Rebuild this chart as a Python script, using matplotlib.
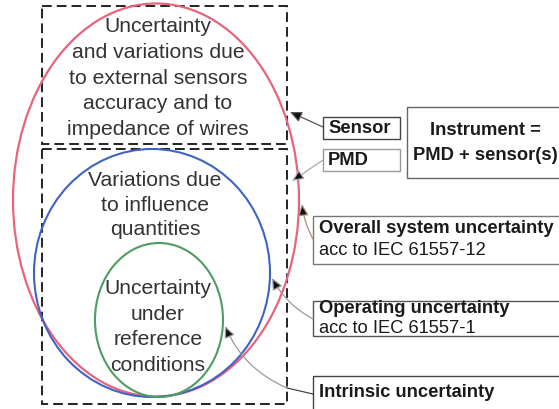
import matplotlib
matplotlib.use("Agg")
import matplotlib.pyplot as plt
from matplotlib.patches import Ellipse, Rectangle, FancyArrowPatch

plt.rcParams['font.family'] = ['Liberation Sans', 'DejaVu Sans']

# ---- content ----
outer_lines = ["Uncertainty", "and variations due", "to external sensors",
               "accuracy and to", "impedance of wires"]
middle_lines = ["Variations due", "to influence", "quantities"]
inner_lines = ["Uncertainty", "under", "reference", "conditions"]
sensor_label = "Sensor"
pmd_label = "PMD"
instrument_lines = ["Instrument =", "PMD + sensor(s)"]
overall_lines = ["Overall system uncertainty", "acc to IEC 61557-12"]
operating_lines = ["Operating uncertainty", "acc to IEC 61557-1"]
intrinsic_lines = ["Intrinsic uncertainty"]

fig = plt.figure(figsize=(5.59, 4.10), dpi=100)
ax = fig.add_axes([0, 0, 1, 1])
ax.set_xlim(0, 559)
ax.set_ylim(410, 0)
ax.axis('off')

dash = (0, (5, 2.6))
# dashed rectangles
ax.add_patch(Rectangle((42, 7), 245, 138, fill=False, ec='#222222', lw=1.4, ls=dash))
ax.add_patch(Rectangle((42, 150), 245, 255, fill=False, ec='#222222', lw=1.4, ls=dash))

# ellipses
ax.add_patch(Ellipse((156, 201), 286, 393, fill=False, ec='#e8647c', lw=1.6))
ax.add_patch(Ellipse((152, 274), 236, 248, fill=False, ec='#3f63c4', lw=1.5))
ax.add_patch(Ellipse((159, 321), 128, 154, fill=False, ec='#4f9c60', lw=1.5))

txt_col = '#333333'
def stack(lines, x, y0, dy, size, **kw):
    for i, s in enumerate(lines):
        ax.text(x, y0 + i * dy, s, ha='center', va='center', fontsize=size,
                color=txt_col, **kw)

stack(outer_lines, 158, 27, 25.6, 15.2)
stack(middle_lines, 155, 181, 24.5, 15.2)
stack(inner_lines, 158, 289, 25.5, 15.2)

# right boxes
def box(x0, y0, x1, y1, ec):
    ax.add_patch(Rectangle((x0, y0), x1 - x0, y1 - y0, fill=False, ec=ec, lw=1.0))

dark = '#1a1a1a'
bs = 13.2
box(323, 118, 400, 140, '#444444')
ax.text(328, 129, sensor_label, ha='left', va='center', fontsize=bs, weight='bold', color=dark)
box(323, 150, 400, 172, '#9a9a9a')
ax.text(328, 161, pmd_label, ha='left', va='center', fontsize=bs, weight='bold', color=dark)

box(407, 108, 566, 179, '#666666')
ax.text(485, 131, instrument_lines[0], ha='center', va='center', fontsize=bs, weight='bold', color=dark)
ax.text(485, 156, instrument_lines[1], ha='center', va='center', fontsize=bs, weight='bold', color=dark)

box(313, 217, 566, 265, '#777777')
ax.text(319, 229, overall_lines[0], ha='left', va='center', fontsize=bs, weight='bold', color=dark)
ax.text(319, 251, overall_lines[1], ha='left', va='center', fontsize=bs, color=dark)

box(313, 302, 566, 337, '#555555')
ax.text(319, 309, operating_lines[0], ha='left', va='center', fontsize=bs, weight='bold', color=dark)
ax.text(319, 329, operating_lines[1], ha='left', va='center', fontsize=bs, color=dark)

box(313, 377, 566, 420, '#444444')
ax.text(319, 393, intrinsic_lines[0], ha='left', va='center', fontsize=bs, weight='bold', color=dark)

# connectors
def conn(p0, p1, col, rad=0.0, lw=0.9):
    a = FancyArrowPatch(p0, p1, arrowstyle='-|>,head_length=7,head_width=3.2',
                        connectionstyle=f'arc3,rad={rad}', ec=col, fc='#111111', lw=lw,
                        shrinkA=0, shrinkB=0, mutation_scale=1)
    ax.add_patch(a)

conn((323, 128), (290, 113), '#555555')
conn((323, 161), (292, 182), '#aaaaaa')
conn((313, 240), (302, 205), '#a89080', rad=-0.1)
conn((313, 320), (272, 279), '#9a9a9a', rad=-0.15)
ax.plot([313, 287], [395, 389], color='#333333', lw=0.8)
conn((287, 389), (225, 327), '#9a9a9a', rad=-0.2)

fig.savefig('out.png', dpi=100)
